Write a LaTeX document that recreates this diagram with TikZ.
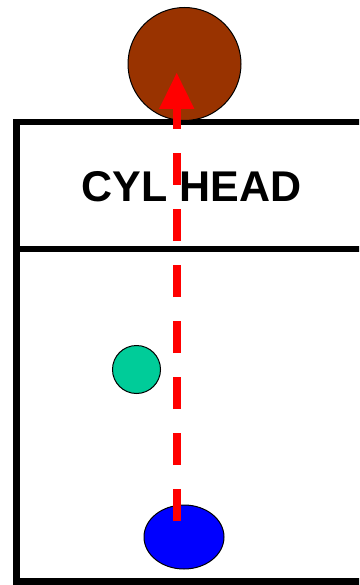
\documentclass[tikz,border=0pt]{standalone}
\usepackage{fontspec}
\setmainfont{Liberation Sans}
\usetikzlibrary{arrows.meta}
\definecolor{brownball}{HTML}{993300}
\definecolor{greenball}{HTML}{00CC99}
\tikzset{
  wall/.style={line width=6.5pt, black},
  ball/.style={draw=black, line width=1pt},
  flow/.style={red, line width=8pt, dash pattern=on 32pt off 24pt}
}
\begin{document}
\begin{tikzpicture}[x=1pt,y=-1pt]
\useasboundingbox (0,0) rectangle (359,585);
\clip (0,0) rectangle (359,585);
\fill[white] (0,0) rectangle (359,585);
% walls
\draw[wall] (420,122) -- (16.5,122) -- (16.5,581.5) -- (420,581.5);
\draw[wall] (13.25,249) -- (420,249);
% balls
\draw[ball, fill=brownball] (184.5,64) circle (56.5);
\draw[ball, fill=greenball] (136.5,369.5) circle (24);
\draw[ball, fill=blue] (184,537) ellipse [x radius=40, y radius=32];
\node (head) at (191.5,187) {\fontsize{43}{43}\selectfont\bfseries CYL HEAD};
\coordinate (start) at (176.7,521);
\coordinate (base) at (176.7,109);
\coordinate (tip) at (176.7,73);
\draw[flow] (start) -- (base);
\fill[red] (tip) -- (159,109) -- (194.4,109) -- cycle;
\end{tikzpicture}
\end{document}
